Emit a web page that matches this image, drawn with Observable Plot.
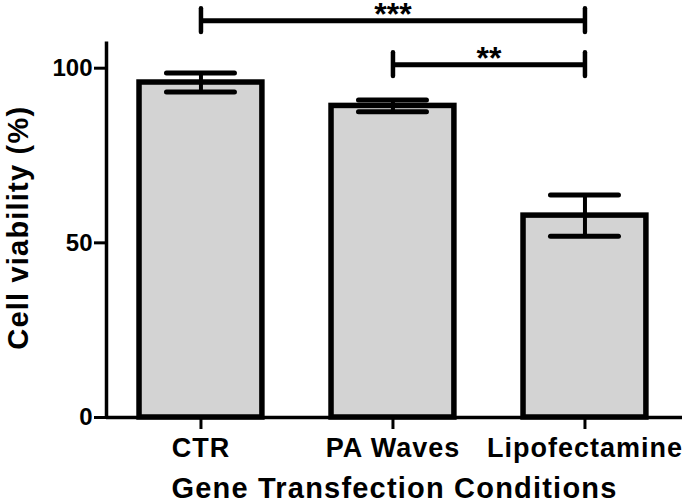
<!DOCTYPE html>
<html><head><meta charset="utf-8">
<script src="https://cdn.jsdelivr.net/npm/d3@7"></script>
<script src="https://cdn.jsdelivr.net/npm/@observablehq/plot@0.6"></script>
<style>
body{margin:0;background:#fff}
#chart{padding-top:10px}
svg{font-family:"Liberation Sans",Arial,sans-serif;overflow:visible;display:block}
g[aria-label="x-axis tick label"] text{letter-spacing:1px}
.title text{letter-spacing:1.2px}
</style>
</head><body><div id="chart"></div>
<script>
const categories = ["CTR", "PA Waves", "Lipofectamine"];
const means = [95.9, 89.2, 57.8];
const errors = [2.7, 1.7, 5.9];
const yTicks = [0, 50, 100];
const comparisons = [["CTR", "Lipofectamine"], ["PA Waves", "Lipofectamine"]];
const comparisonLevels = [113.6, 101.0];
const comparisonLabels = ["***", "**"];
const yLabel = "Cell viability (%)";
const xLabel = "Gene Transfection Conditions";

const idx = c => categories.indexOf(c);
const bars = categories.map((c, i) => ({i, c, mean: means[i], lo: means[i] - errors[i], hi: means[i] + errors[i]}));
const brackets = comparisons.map(([a, b], k) => ({x1: idx(a), x2: idx(b), xm: (idx(a) + idx(b)) / 2, y: comparisonLevels[k], label: comparisonLabels[k]}));
const bracketEnds = brackets.flatMap(b => [{x: b.x1, y: b.y}, {x: b.x2, y: b.y}]);

const xDomain = [-0.492, 2.508];
const barHalf = 0.32, capHalf = 0.177, endHalf = 3.4;
const topPad = 10;

const chart = Plot.plot({
  width: 685, height: 502 - topPad,
  marginLeft: 106, marginRight: 3, marginTop: 41.5 - topPad, marginBottom: 85,
  x: {type: "linear", domain: xDomain, axis: null},
  y: {domain: [0, 107.5], axis: null},
  marks: [
    Plot.rect(bars, {x1: d => d.i - barHalf, x2: d => d.i + barHalf, y1: 0, y2: "mean", fill: "#d3d3d3", stroke: "black", strokeWidth: 5.5}),
    Plot.ruleX(bars, {x: "i", y1: "lo", y2: "hi", stroke: "black", strokeWidth: 4}),
    Plot.ruleY(bars, {y: "hi", x1: d => d.i - capHalf, x2: d => d.i + capHalf, stroke: "black", strokeWidth: 5, strokeLinecap: "round"}),
    Plot.ruleY(bars, {y: "lo", x1: d => d.i - capHalf, x2: d => d.i + capHalf, stroke: "black", strokeWidth: 5, strokeLinecap: "round"}),
    Plot.axisY({ticks: yTicks, tickSize: 12, tickPadding: 2, fontSize: 24, fontWeight: "bold", stroke: "black", strokeWidth: 3, label: null}),
    Plot.axisX({ticks: [0, 1, 2], tickFormat: i => categories[i], tickSize: 12, tickPadding: 8, fontSize: 27, fontWeight: "bold", stroke: "black", strokeWidth: 3, label: null}),
    Plot.ruleX([xDomain[0]], {stroke: "black", strokeWidth: 3.5}),
    Plot.ruleY([0], {stroke: "black", strokeWidth: 3.5}),
    Plot.ruleY(brackets, {y: "y", x1: "x1", x2: "x2", stroke: "black", strokeWidth: 5}),
    Plot.ruleX(bracketEnds, {x: "x", y1: d => d.y - endHalf, y2: d => d.y + endHalf, stroke: "black", strokeWidth: 4.5, strokeLinecap: "round"}),
    Plot.text(brackets, {x: "xm", y: "y", text: "label", fontSize: 32, fontWeight: "bold", dy: -6, fill: "black"}),
    Plot.text([yLabel], {frameAnchor: "left", textAnchor: "middle", rotate: -90, dx: -88, dy: -2, fontSize: 29, fontWeight: "bold", fill: "black", className: "title"}),
    Plot.text([xLabel], {frameAnchor: "bottom", lineAnchor: "bottom", dy: 80, fontSize: 29, fontWeight: "bold", fill: "black", className: "title"})
  ]
});
document.getElementById("chart").appendChild(chart);
</script>
</body></html>
